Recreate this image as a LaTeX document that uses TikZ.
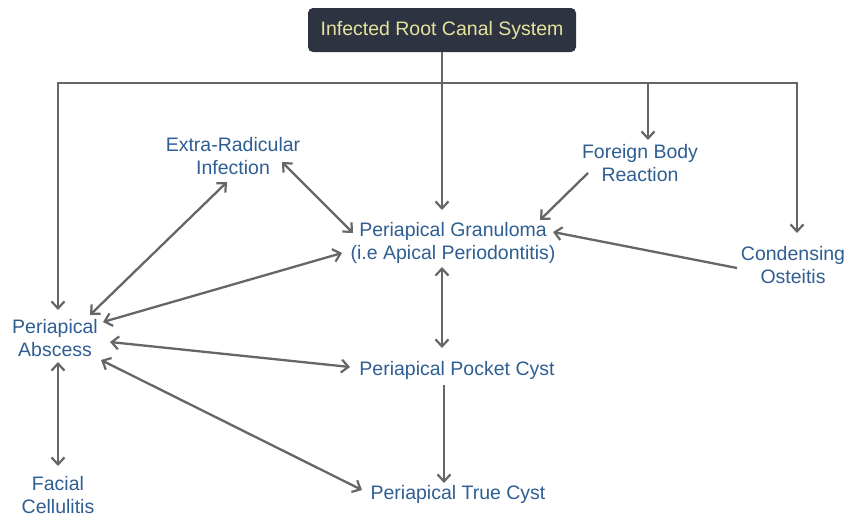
\documentclass[tikz,border=0pt]{standalone}
\usepackage{fontspec}
\setmainfont{Liberation Sans}
\usetikzlibrary{arrows.meta,calc}
\definecolor{txtblue}{HTML}{2F5E92}
\definecolor{linegray}{HTML}{666666}
\definecolor{boxfill}{HTML}{2E3341}
\definecolor{boxtext}{HTML}{E4E49C}
\begin{document}
\begin{tikzpicture}[x=1pt,y=-1pt,
  lbl/.style={text=txtblue,align=center,inner sep=0pt,font=\fontsize{19.5}{23}\selectfont},
  conn/.style={draw=linegray,line width=2.3pt,-{Straight Barb[length=7pt,width=13pt,line width=2.2pt]}},
  biconn/.style={draw=linegray,line width=2.3pt,{Straight Barb[length=7pt,width=13pt,line width=2.2pt]}-{Straight Barb[length=7pt,width=13pt,line width=2.2pt]}}]
\useasboundingbox (0,0) rectangle (849,517);
\fill[white] (0,0) rectangle (849,517);
\node[fill=boxfill,text=boxtext,rounded corners=5pt,minimum width=268pt,minimum height=44pt,inner sep=0pt,font=\fontsize{19.5}{23}\selectfont] (top) at (442,30) {Infected Root Canal System};
\node[lbl] (extra) at (233,156) {Extra-Radicular\\Infection};
\node[lbl] (gran) at (453,243) {Periapical Granuloma\\(i.e Apical Periodontitis)};
\node[lbl] (foreign) at (640,163) {Foreign Body\\Reaction};
\node[lbl] (cond) at (793,265) {Condensing\\Osteitis};
\node[lbl] (abs) at (55,338) {Periapical\\Abscess};
\node[lbl] (pocket) at (457,370) {Periapical Pocket Cyst};
\node[lbl] (true) at (458,494) {Periapical True Cyst};
\node[lbl] (facial) at (58,495) {Facial\\Cellulitis};
\coordinate (j) at (442,83);
\coordinate (ftip) at ([shift={(8,-23)}]foreign.center);
% trunk and branches
\draw[conn] (top.south) -- ([shift={(-11,-33)}]gran.center);
\draw[conn] (j) -| ([shift={(3,-28)}]abs.center);
\draw[conn] (j) -| ([shift={(4,-32)}]cond.center);
\draw[conn] (ftip |- j) -- (ftip);
% relations
\draw[biconn] ([shift={(3,24)}]abs.center) -- ([shift={(0,-29)}]facial.center);
\draw[biconn] ([shift={(55,4)}]abs.center) -- ([shift={(-107,-3)}]pocket.center);
\draw[biconn] ([shift={(46,22)}]abs.center) -- ([shift={(-96,-4)}]true.center);
\draw[conn] ([shift={(-13,15)}]pocket.center) -- ([shift={(-14,-11)}]true.center);
\draw[biconn] ([shift={(-11,24)}]gran.center) -- ([shift={(-15,-22)}]pocket.center);
\draw[biconn] ([shift={(48,-16)}]abs.center) -- ([shift={(-111,10)}]gran.center);
\draw[biconn] ([shift={(35,-23)}]abs.center) -- ([shift={(-6,26)}]extra.center);
\draw[biconn] ([shift={(49,6)}]extra.center) -- ([shift={(-100,-10)}]gran.center);
\draw[conn] ([shift={(-52,10)}]foreign.center) -- ([shift={(87,-23)}]gran.center);
\draw[conn] ([shift={(-56,3)}]cond.center) -- ([shift={(100,-11)}]gran.center);
\end{tikzpicture}
\end{document}
